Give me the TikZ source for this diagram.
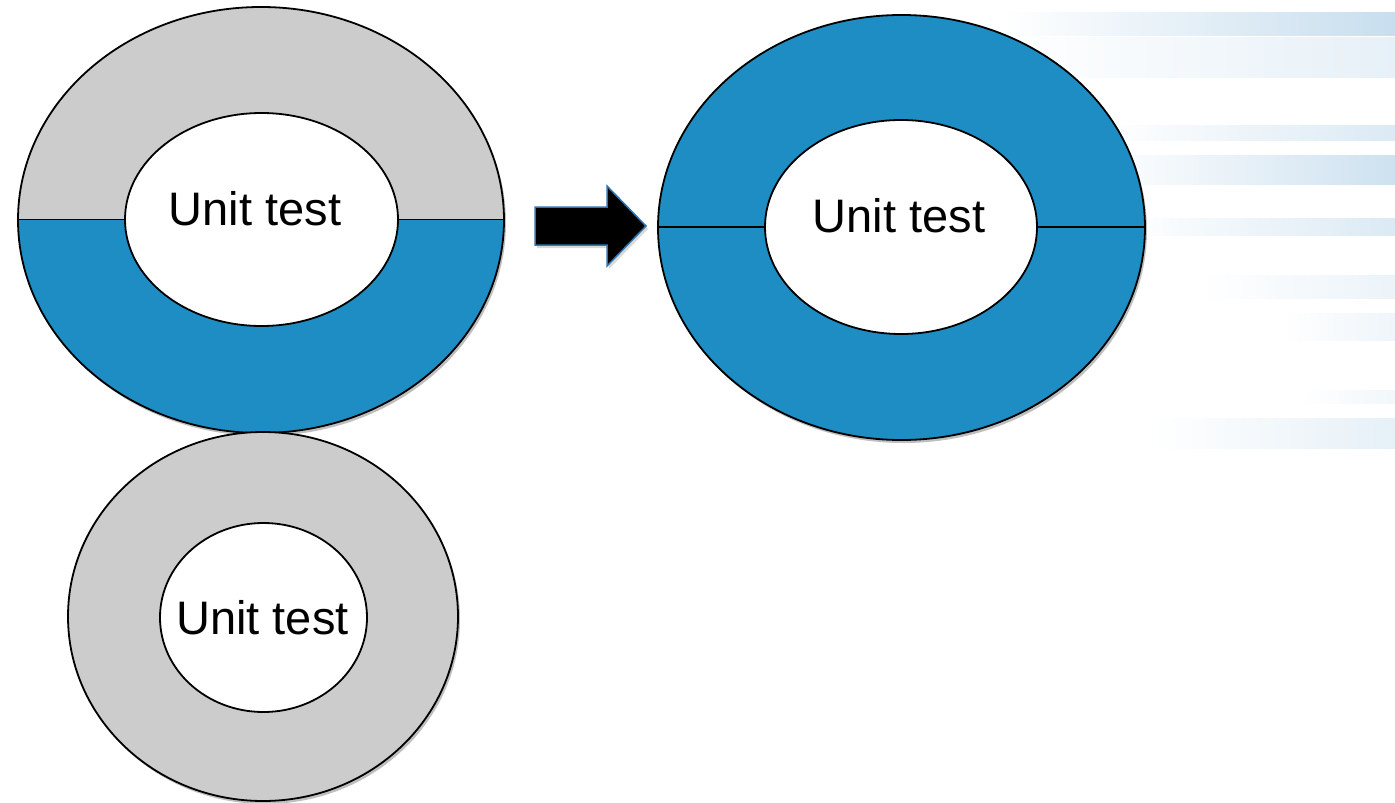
\documentclass[tikz,border=0pt]{standalone}
\usepackage{fontspec}
\setmainfont{Liberation Sans}
\usetikzlibrary{shadows,shapes.geometric}
\definecolor{ringblue}{RGB}{30,141,196}
\definecolor{ringgray}{RGB}{204,204,204}
\definecolor{stripeblue}{RGB}{200,222,238}
\definecolor{arrowedge}{RGB}{46,117,182}
\begin{document}
\begin{tikzpicture}[x=1pt,y=-1pt,
  ringline/.style={draw=black,line width=1.8pt},
  ringshadow/.style={drop shadow={shadow xshift=2pt,shadow yshift=-3pt,opacity=0.25,fill=black}},
  innerhole/.style={ellipse,fill=white,draw=black,line width=1.8pt,inner sep=0pt},
  unitlabel/.style={font=\fontsize{47}{50}\selectfont,text=black,anchor=base,inner sep=0pt},
  stripe/.style={left color=white,right color=#1,draw=none}]
\useasboundingbox (0,0) rectangle (1395,803);
% background stripes
\fill[stripe=stripeblue] (1000,12) rectangle (1395,35);
\fill[stripe=stripeblue!45] (1000,37) rectangle (1395,77);
\fill[stripe=stripeblue!65] (1100,125) rectangle (1395,140);
\fill[stripe=stripeblue!90] (1100,155) rectangle (1395,184);
\fill[stripe=stripeblue!65] (1120,218) rectangle (1395,235);
\fill[stripe=stripeblue!35] (1200,275) rectangle (1395,298);
\fill[stripe=stripeblue!30] (1280,313) rectangle (1395,340);
\fill[stripe=stripeblue!25] (1300,390) rectangle (1395,403);
\fill[stripe=stripeblue!45] (1150,418) rectangle (1395,448);

% ring 1 (top-left): gray top half, blue bottom half
\fill[ringblue,ringshadow] (261,220) ellipse[x radius=243,y radius=213];
\begin{scope}
  \clip (0,0) rectangle (700,219.5);
  \fill[ringgray] (261,220) ellipse[x radius=243,y radius=213];
\end{scope}
\draw[ringline] (261,220) ellipse[x radius=243,y radius=213];
\draw[ringline] (18,219.5) -- (504,219.5);
\node[innerhole,minimum width=273pt,minimum height=213pt] (hole1) at (261.5,219.5) {};
\node[unitlabel] (lab1) at (255,225.7) {Unit test};

% arrow
\path[fill=black,draw=arrowedge,line width=1.5pt,line join=miter,
      drop shadow={shadow xshift=2pt,shadow yshift=-3pt,opacity=0.3}]
  (535,207) -- (607,207) -- (607,186) -- (646,226) -- (607,266) -- (607,245) -- (535,245) -- cycle;

% ring 2 (top-right): all blue
\fill[ringblue,ringshadow] (901.5,227.5) ellipse[x radius=243.5,y radius=212.5];
\draw[ringline] (901.5,227.5) ellipse[x radius=243.5,y radius=212.5];
\draw[ringline] (658,227) -- (1145,227);
\node[innerhole,minimum width=272pt,minimum height=214pt] (hole2) at (901,227) {};
\node[unitlabel] (lab2) at (899,232.7) {Unit test};

% ring 3 (bottom): gray
\fill[ringgray,ringshadow] (263,616.5) ellipse[x radius=195,y radius=184.5];
\draw[ringline] (263,616.5) ellipse[x radius=195,y radius=184.5];
\node[innerhole,minimum width=207pt,minimum height=189pt] (hole3) at (263.5,617.5) {};
\node[unitlabel] (lab3) at (262.5,634) {Unit test};
\end{tikzpicture}
\end{document}
